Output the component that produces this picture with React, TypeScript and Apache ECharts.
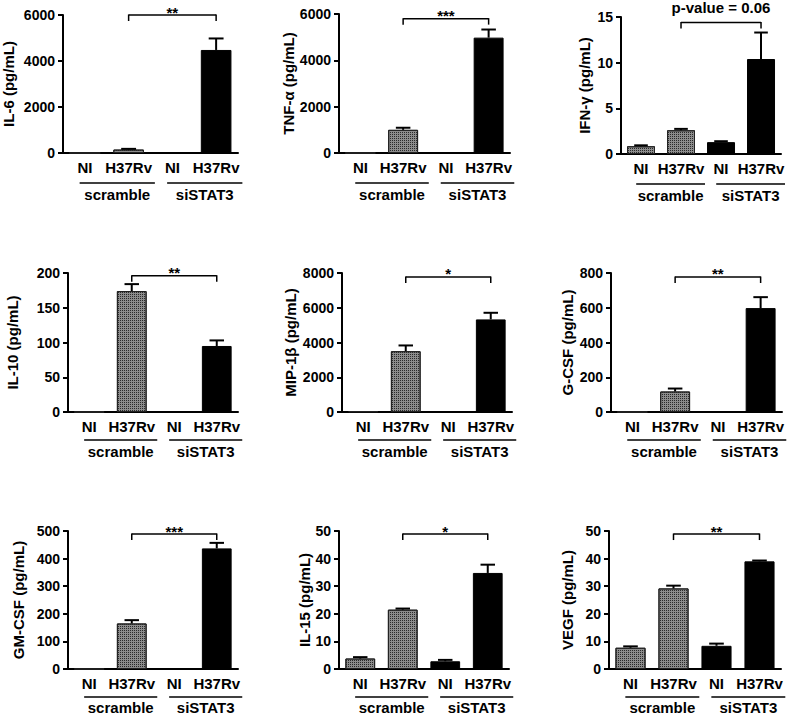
import React, { useEffect, useRef } from 'react';
import * as echarts from 'echarts';

const CATEGORIES = ['NI', 'H37Rv', 'NI', 'H37Rv'];
const GROUPS = ['scramble', 'siSTAT3'];
const GROUP_SPANS = [[0, 1], [2, 3]];

const Y_TITLES = [
  'IL-6 (pg/mL)', 'TNF-α (pg/mL)', 'IFN-γ (pg/mL)',
  'IL-10 (pg/mL)', 'MIP-1β (pg/mL)', 'G-CSF (pg/mL)',
  'GM-CSF (pg/mL)', 'IL-15 (pg/mL)', 'VEGF (pg/mL)',
];

const IL6_MEAN = [0, 150, 0, 4480];
const IL6_ERR = [0, 30, 0, 500];
const TNF_MEAN = [0, 1000, 0, 4980];
const TNF_ERR = [0, 90, 0, 350];
const IFN_MEAN = [0.85, 2.6, 1.3, 10.4];
const IFN_ERR = [0.1, 0.15, 0.1, 2.9];
const IL10_MEAN = [0, 174, 0, 95];
const IL10_ERR = [0, 10, 0, 8];
const MIP_MEAN = [40, 3500, 40, 5330];
const MIP_ERR = [0, 330, 0, 380];
const GCSF_MEAN = [0, 118, 0, 598];
const GCSF_ERR = [0, 17, 0, 63];
const GMCSF_MEAN = [0, 165, 0, 437];
const GMCSF_ERR = [0, 12, 0, 20];
const IL15_MEAN = [3.8, 21.5, 2.8, 34.8];
const IL15_ERR = [0.5, 0.4, 0.5, 3];
const VEGF_MEAN = [7.7, 29.2, 8.4, 39.0];
const VEGF_ERR = [0.5, 1.0, 0.8, 0.3];

const MEANS = [IL6_MEAN, TNF_MEAN, IFN_MEAN, IL10_MEAN, MIP_MEAN, GCSF_MEAN, GMCSF_MEAN, IL15_MEAN, VEGF_MEAN];
const ERRS = [IL6_ERR, TNF_ERR, IFN_ERR, IL10_ERR, MIP_ERR, GCSF_ERR, GMCSF_ERR, IL15_ERR, VEGF_ERR];

const Y_MAX = [6000, 6000, 15, 200, 8000, 800, 500, 50, 50];
const Y_STEP = [2000, 2000, 5, 50, 2000, 200, 100, 10, 10];

const SIG_LABELS = ['**', '***', 'p-value = 0.06', '**', '*', '**', '***', '*', '**'];
const SIG_Y = [6000, 5800, 14.4, 196, 7770, 777, 489, 48.9, 48.9];
const SIG_FROM = [1, 1, 1, 1, 1, 1, 1, 1, 1];
const SIG_TO = [3, 3, 3, 3, 3, 3, 3, 3, 3];

// layout (pixels)
const LAYOUT = [
  { left: 63, top: 15, width: 175, height: 138, nameGap: 47, under: 30, grp: 41 },
  { left: 339, top: 14, width: 171, height: 139, nameGap: 42, under: 30, grp: 41 },
  { left: 621, top: 17, width: 163, height: 137, nameGap: 29, under: 30, grp: 41 },
  { left: 68, top: 273, width: 170, height: 139, nameGap: 48, under: 28, grp: 39 },
  { left: 342, top: 273, width: 170, height: 139, nameGap: 44, under: 28, grp: 39 },
  { left: 611, top: 273, width: 171, height: 139, nameGap: 36, under: 28, grp: 39 },
  { left: 68, top: 531, width: 170, height: 138, nameGap: 42, under: 28, grp: 38 },
  { left: 339, top: 531, width: 170, height: 138, nameGap: 26, under: 28, grp: 38 },
  { left: 609, top: 531, width: 172, height: 138, nameGap: 34, under: 28, grp: 38 },
];

const FONT = "'Liberation Sans', Arial, Helvetica, sans-serif";

export default function App() {
  const ref = useRef<HTMLDivElement>(null);
  useEffect(() => {
    document.body.style.margin = '0';
    if (!ref.current) return;
    const chart = echarts.init(ref.current, null, { renderer: 'svg' });

    const hatched = {
      color: '#8c8c8c',
      borderColor: '#222',
      borderWidth: 1,
      decal: {
        symbol: 'rect',
        symbolSize: 1,
        dashArrayX: [1, 1],
        dashArrayY: [1, 1],
        color: '#2a2a2a',
        backgroundColor: '#a6a6a6',
        rotation: 0,
      },
    };
    const black = { color: '#000', borderColor: '#000', borderWidth: 1 };

    const grids: any[] = [];
    const xAxes: any[] = [];
    const yAxes: any[] = [];
    const series: any[] = [];

    LAYOUT.forEach((L, i) => {
      grids.push({ left: L.left, top: L.top, width: L.width, height: L.height, containLabel: false });
      xAxes.push({
        type: 'category',
        gridIndex: i,
        data: CATEGORIES,
        axisLine: { show: true, lineStyle: { color: '#000', width: 2 } },
        axisTick: { show: false },
        axisLabel: { color: '#000', fontSize: 15, fontWeight: 'bold', fontFamily: FONT, margin: 7, interval: 0 },
        splitLine: { show: false },
      });
      yAxes.push({
        type: 'value',
        gridIndex: i,
        min: 0,
        max: Y_MAX[i],
        interval: Y_STEP[i],
        name: Y_TITLES[i],
        nameLocation: 'middle',
        nameGap: L.nameGap,
        nameTextStyle: { color: '#000', fontSize: 15, fontWeight: 'bold', fontFamily: FONT },
        axisLine: { show: true, lineStyle: { color: '#000', width: 2 } },
        axisTick: { show: true, length: 5, lineStyle: { color: '#000', width: 2 } },
        axisLabel: {
          color: '#000', fontSize: 14, fontWeight: 'bold', fontFamily: FONT, margin: 8,
          formatter: (v: number) => String(v),
        },
        splitLine: { show: false },
      });

      series.push({
        type: 'bar',
        xAxisIndex: i,
        yAxisIndex: i,
        barWidth: '70%',
        z: 2,
        data: MEANS[i].map((m, k) => ({ value: m, itemStyle: k < 2 ? hatched : black })),
      });

      series.push({
        type: 'custom',
        xAxisIndex: i,
        yAxisIndex: i,
        z: 3,
        data: MEANS[i].map((m, k) => [k, m, ERRS[i][k]]),
        renderItem: (params: any, api: any) => {
          const k = api.value(0);
          const m = api.value(1);
          const e = api.value(2);
          if (!e) return null;
          const base = api.coord([k, m]);
          const top = api.coord([k, m + e]);
          const half = api.size([1, 0])[0] * 0.17;
          return {
            type: 'group',
            children: [
              { type: 'line', shape: { x1: base[0], y1: base[1], x2: top[0], y2: top[1] }, style: { stroke: '#000', lineWidth: 2 } },
              { type: 'line', shape: { x1: top[0] - half, y1: top[1], x2: top[0] + half, y2: top[1] }, style: { stroke: '#000', lineWidth: 2 } },
            ],
          };
        },
      });

      series.push({
        type: 'custom',
        xAxisIndex: i,
        yAxisIndex: i,
        z: 4,
        data: [[SIG_FROM[i], SIG_Y[i], SIG_TO[i]]],
        renderItem: (params: any, api: any) => {
          const a = api.coord([api.value(0), api.value(1)]);
          const b = api.coord([api.value(2), api.value(1)]);
          const label = SIG_LABELS[i];
          const isStar = label.indexOf('*') === 0;
          return {
            type: 'group',
            children: [
              { type: 'line', shape: { x1: a[0], y1: a[1], x2: b[0], y2: b[1] }, style: { stroke: '#000', lineWidth: 1.5 } },
              { type: 'line', shape: { x1: a[0], y1: a[1] - 0.5, x2: a[0], y2: a[1] + 6 }, style: { stroke: '#000', lineWidth: 1.5 } },
              { type: 'line', shape: { x1: b[0], y1: b[1] - 0.5, x2: b[0], y2: b[1] + 6 }, style: { stroke: '#000', lineWidth: 1.5 } },
              {
                type: 'text',
                x: (a[0] + b[0]) / 2,
                y: a[1] - (isStar ? 3 : 15),
                style: {
                  text: label, fill: '#000', fontSize: 15, fontWeight: 'bold', fontFamily: FONT,
                  align: 'center', verticalAlign: 'middle',
                },
              },
            ],
          };
        },
      });

      series.push({
        type: 'custom',
        xAxisIndex: i,
        yAxisIndex: i,
        z: 4,
        data: GROUP_SPANS.map((s) => [s[0], 0, s[1]]),
        renderItem: (params: any, api: any) => {
          const c0 = api.coord([api.value(0), 0]);
          const c1 = api.coord([api.value(2), 0]);
          const slot = api.size([1, 0])[0];
          const x1 = c0[0] - 0.12 * slot;
          const x2 = c1[0] + 0.6 * slot;
          const y = c0[1] + L.under;
          return {
            type: 'group',
            children: [
              { type: 'line', shape: { x1, y1: y, x2, y2: y }, style: { stroke: '#000', lineWidth: 1.5 } },
              {
                type: 'text',
                x: (x1 + x2) / 2,
                y: c0[1] + L.grp,
                style: {
                  text: GROUPS[params.dataIndex], fill: '#000', fontSize: 15, fontWeight: 'bold', fontFamily: FONT,
                  align: 'center', verticalAlign: 'middle',
                },
              },
            ],
          };
        },
      });
    });

    chart.setOption({
      animation: false,
      backgroundColor: '#fff',
      grid: grids,
      xAxis: xAxes,
      yAxis: yAxes,
      series,
    });
    return () => chart.dispose();
  }, []);

  return <div ref={ref} style={{ position: 'absolute', left: 0, top: 0, width: 787, height: 716 }} />;
}
